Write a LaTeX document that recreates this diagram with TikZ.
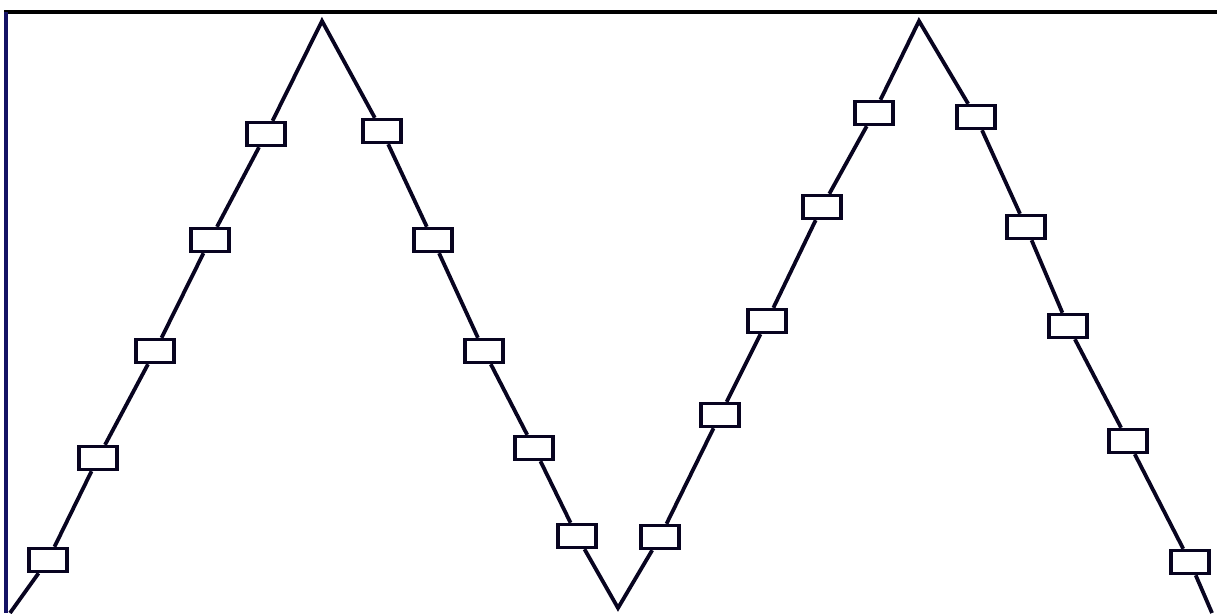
\documentclass[tikz,border=0pt]{standalone}
\usetikzlibrary{positioning}
\definecolor{inkline}{RGB}{8,4,32}
\definecolor{framecol}{RGB}{20,18,100}

\begin{document}
\begin{tikzpicture}[x=1pt,y=-1pt,
  markbox/.style={draw=inkline,line width=3.4pt,fill=white,minimum width=38pt,minimum height=23pt,inner sep=0pt},
  zig/.style={draw=inkline,line width=3.8pt,line join=miter}]
\useasboundingbox (0,0) rectangle (1217,613);
% frame
\draw[line width=3.6pt,black] (4,12) -- (1217,12);
\draw[line width=3.6pt,framecol] (6,12) -- (6,613);
% turning points
\coordinate (p0) at (10,613);
\coordinate (p1) at (322,21);
\coordinate (p2) at (618,608);
\coordinate (p3) at (919,21);
\coordinate (p4) at (1212,613);
% markers
\node[markbox] (m1) at (48,560) {};
\node[markbox] (m2) at (98,458) {};
\node[markbox] (m3) at (155,351) {};
\node[markbox] (m4) at (210,240) {};
\node[markbox] (m5) at (266,134) {};
\node[markbox] (m6) at (382,131) {};
\node[markbox] (m7) at (433,240) {};
\node[markbox] (m8) at (484,351) {};
\node[markbox] (m9) at (534,448) {};
\node[markbox] (m10) at (577,536) {};
\node[markbox] (m11) at (660,537) {};
\node[markbox] (m12) at (720,415) {};
\node[markbox] (m13) at (767,321) {};
\node[markbox] (m14) at (822,207) {};
\node[markbox] (m15) at (874,113) {};
\node[markbox] (m16) at (976,117) {};
\node[markbox] (m17) at (1026,227) {};
\node[markbox] (m18) at (1068,326) {};
\node[markbox] (m19) at (1128,441) {};
\node[markbox] (m20) at (1190,562) {};
\draw[zig] (p0) -- (m1) -- (m2) -- (m3) -- (m4) -- (m5) -- (p1) -- (m6) -- (m7) -- (m8) -- (m9) -- (m10) -- (p2)
  -- (m11) -- (m12) -- (m13) -- (m14) -- (m15) -- (p3) -- (m16) -- (m17) -- (m18) -- (m19) -- (m20) -- (p4);
\end{tikzpicture}
\end{document}
